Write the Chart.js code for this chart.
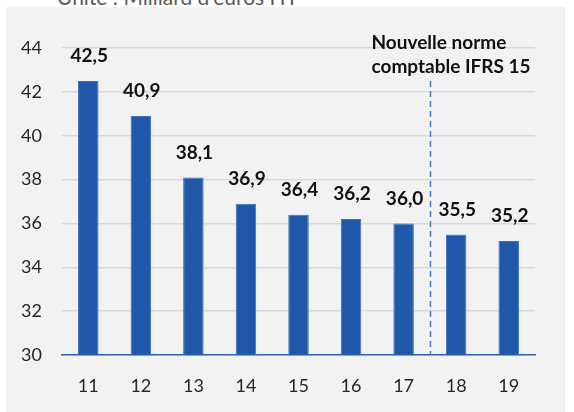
<!DOCTYPE html>
<html>
<head>
<meta charset="utf-8">
<script src="https://cdn.jsdelivr.net/npm/chart.js@4/dist/chart.umd.min.js"></script>
<style>
  html, body { margin: 0; padding: 0; background: #ffffff; width: 574px; height: 412px; overflow: hidden; position: relative; }
  #panel { position: absolute; left: 6px; top: 7px; width: 559px; height: 405px; background: #f2f2f2; }
  #unit { position: absolute; left: 57px; top: -16px; font: 21px Lato, "Liberation Sans", sans-serif; color: #595959; white-space: nowrap; }
  #c { position: absolute; left: 0; top: 0; }
</style>
</head>
<body>
<div id="panel"></div>
<div id="unit">Unité : Milliard d'euros HT</div>
<canvas id="c" width="574" height="412"></canvas>
<script>
const categories = ["11", "12", "13", "14", "15", "16", "17", "18", "19"];
const values = [42.5, 40.9, 38.1, 36.9, 36.4, 36.2, 36.0, 35.5, 35.2];
const valueLabels = ["42,5", "40,9", "38,1", "36,9", "36,4", "36,2", "36,0", "35,5", "35,2"];
const noteLines = ["Nouvelle norme", "comptable IFRS 15"];

const FONT = 'Lato, "Liberation Sans", sans-serif';

const overlay = {
  id: 'overlay',
  afterDatasetsDraw(chart) {
    const ctx = chart.ctx;
    const x = chart.scales.x, y = chart.scales.y;
    const meta = chart.getDatasetMeta(0);
    ctx.save();
    // value labels
    ctx.font = 'bold 19px ' + FONT;
    ctx.fillStyle = '#111111';
    ctx.textAlign = 'center';
    ctx.textBaseline = 'middle';
    meta.data.forEach((bar, i) => {
      ctx.fillText(valueLabels[i], bar.x + 1, bar.y - 25);
    });
    // dashed separator between 17 and 18
    const sx = Math.round((x.getPixelForValue(6) + x.getPixelForValue(7)) / 2) + 0.5;
    ctx.strokeStyle = '#4a7cc4';
    ctx.lineWidth = 1.5;
    ctx.setLineDash([6, 4]);
    ctx.beginPath();
    ctx.moveTo(sx, y.getPixelForValue(42.5));
    ctx.lineTo(sx, y.getPixelForValue(30));
    ctx.stroke();
    ctx.setLineDash([]);
    // note
    ctx.textAlign = 'left';
    ctx.fillStyle = '#111111';
    ctx.fillText(noteLines[0], sx - 59, 43);
    ctx.fillText(noteLines[1], sx - 59, 67);
    ctx.restore();
  }
};

new Chart(document.getElementById('c'), {
  type: 'bar',
  data: {
    labels: categories,
    datasets: [{
      data: values,
      backgroundColor: '#1f58a8',
      borderColor: '#3a6fbb',
      borderWidth: 1,
      barPercentage: 0.39,
      categoryPercentage: 1.0
    }]
  },
  options: {
    responsive: false,
    animation: false,
    events: [],
    layout: { padding: { top: 48, right: 39, left: 0, bottom: 0 } },
    plugins: { legend: { display: false }, tooltip: { enabled: false } },
    scales: {
      x: {
        grid: { display: false, drawTicks: false },
        border: { display: true, color: '#2e63b0', width: 1.5 },
        ticks: { font: { family: FONT, size: 18 }, color: '#262626', padding: 20 },
        afterFit(s) { s.height = 57; }
      },
      y: {
        min: 30, max: 44,
        grid: { color: '#d9d9d9', lineWidth: 1.5, drawTicks: false },
        border: { display: false },
        ticks: { stepSize: 2, font: { family: FONT, size: 18 }, color: '#262626', padding: 20 },
        afterFit(s) { s.width = 62; }
      }
    }
  },
  plugins: [overlay]
});
</script>
</body>
</html>
